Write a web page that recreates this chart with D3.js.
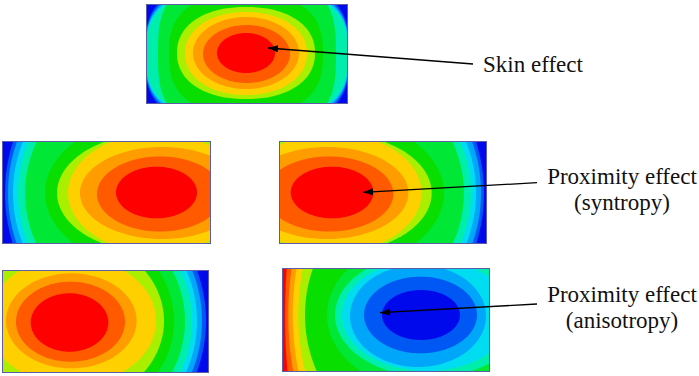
<!DOCTYPE html>
<html>
<head>
<meta charset="utf-8">
<script src="https://cdn.jsdelivr.net/npm/d3@7"></script>
<style>
  html, body { margin: 0; padding: 0; background: #fff; }
  svg { display: block; }
</style>
</head>
<body>
<div id="chart"></div>
<script>
// contour colour levels, low (0) to high (11)
const levelColors = [
  "#0008ec", "#0058f4", "#00a6fa", "#00dcf0", "#00eeac", "#00e836",
  "#08de00", "#aaee00", "#ffd000", "#ff9c00", "#ff5a00", "#ff0000"
];

// each ring: [level, cx, cy, rx, ry, exponent], in panel-local pixels,
// the level's colour fills the inside of the ring
const skinRings = [
  [1, 101, 50, 102, 72, 3],
  [2, 101, 50, 101.6, 68, 3],
  [3, 101, 50, 101.1, 65.4, 3],
  [4, 101, 50, 100.4, 63.3, 3],
  [5, 101, 50, 89, 77, 3],
  [6, 100, 50, 77, 60, 2.6],
  [7, 100, 49, 69, 46, 2.2],
  [8, 100, 49.5, 61, 41.5, 2.1],
  [9, 100, 49, 53, 36, 2],
  [10, 100.5, 50, 43.5, 29, 2],
  [11, 100, 49, 29, 20, 2]
];

const syntropyLeftRings = [
  [1, 154.5, 52, 151.5, 160, 2],
  [2, 154.5, 52, 148.5, 150, 2],
  [3, 154.5, 52, 143.5, 140, 2],
  [4, 154.5, 52, 138.5, 132, 2],
  [5, 154.5, 52, 131.5, 125, 2],
  [6, 154.5, 52, 111.5, 75, 2],
  [7, 154.5, 52, 99.5, 60, 2],
  [8, 154.5, 52, 88.5, 59.5, 2],
  [9, 160, 52, 82, 46, 2],
  [10, 158, 53, 63, 37.5, 2],
  [11, 154.5, 51.5, 40.5, 25.8, 2]
];

const syntropyRightRings = [
  [1, 53.5, 52, 151.5, 160, 2],
  [2, 53.5, 52, 148.5, 150, 2],
  [3, 53.5, 52, 143.5, 140, 2],
  [4, 53.5, 52, 138.5, 132, 2],
  [5, 53.5, 52, 131.5, 125, 2],
  [6, 53.5, 52, 111.5, 75, 2],
  [7, 53.5, 52, 99.2, 60, 2],
  [8, 53.5, 52, 89, 59.5, 2],
  [9, 48, 52, 81.3, 46, 2],
  [10, 50, 53, 64.3, 37.5, 2],
  [11, 53, 51.5, 41.3, 25.8, 2]
];

const anisoLeftRings = [
  [1, 70, 51, 134, 140, 2],
  [2, 70, 51, 130, 132, 2],
  [3, 70, 51, 125, 125, 2],
  [4, 70, 51, 120, 118, 2],
  [5, 70, 51, 113, 110, 2],
  [6, 70, 51, 102, 95, 2],
  [7, 70, 51, 92, 82, 2],
  [8, 70, 51, 84, 64, 2],
  [9, 69.3, 50.8, 65.3, 47.5, 2],
  [10, 68.5, 51.7, 54.5, 40, 2],
  [11, 67.5, 52.5, 38.8, 29.2, 2]
];

const anisoRightRings = [
  [10, 140, 47, 137, 300, 2],
  [9, 140, 47, 133.7, 210, 2],
  [8, 140, 47, 129.3, 190, 2],
  [7, 140, 47, 123.7, 172, 2],
  [6, 140, 47, 117, 129, 2],
  [5, 145, 47, 100, 75, 2],
  [4, 148, 47, 95, 62, 2],
  [3, 145, 47, 85, 56, 2],
  [2, 136, 48, 68, 51, 2],
  [1, 138.5, 47, 56.5, 38.3, 2],
  [0, 139, 47, 39, 25, 2]
];

const labelLines = [
  ["Skin effect"],
  ["Proximity effect", "(syntropy)"],
  ["Proximity effect", "(anisotropy)"]
];

const W = 699, H = 376;

const svg = d3.select("#chart").append("svg")
  .attr("width", W)
  .attr("height", H);

const defs = svg.append("defs");

defs.append("marker")
  .attr("id", "head")
  .attr("markerUnits", "userSpaceOnUse")
  .attr("viewBox", "0 0 10 7")
  .attr("refX", 10)
  .attr("refY", 3.5)
  .attr("markerWidth", 10)
  .attr("markerHeight", 7)
  .attr("orient", "auto")
  .append("path")
  .attr("d", "M0,0L10,3.5L0,7Z")
  .attr("fill", "#000");

const panels = [
  {id: "skin", rings: skinRings, base: 0, x: 146, y: 4, w: 202, h: 100},
  {id: "synL", rings: syntropyLeftRings, base: 0, x: 2, y: 141, w: 209, h: 103},
  {id: "synR", rings: syntropyRightRings, base: 0, x: 279, y: 141, w: 208, h: 103},
  {id: "aniL", rings: anisoLeftRings, base: 0, x: 2, y: 270, w: 207, h: 103},
  {id: "aniR", rings: anisoRightRings, base: 11, x: 282, y: 268, w: 208, h: 104}
];

const line = d3.line().curve(d3.curveLinearClosed);

function ringPath(r, sx, sy) {
  const e = 2 / r[5];
  const pts = d3.range(0, 360, 2).map(function (deg) {
    const t = deg * Math.PI / 180;
    const c = Math.cos(t), s = Math.sin(t);
    return [
      sx(r[1] + r[3] * Math.sign(c) * Math.pow(Math.abs(c), e)),
      sy(r[2] + r[4] * Math.sign(s) * Math.pow(Math.abs(s), e))
    ];
  });
  return line(pts);
}

panels.forEach(function (p) {
  const sx = d3.scaleLinear().domain([0, p.w]).range([p.x, p.x + p.w]);
  const sy = d3.scaleLinear().domain([0, p.h]).range([p.y, p.y + p.h]);

  defs.append("clipPath")
    .attr("id", "clip-" + p.id)
    .append("rect")
    .attr("x", p.x).attr("y", p.y)
    .attr("width", p.w).attr("height", p.h);

  const g = svg.append("g").attr("clip-path", "url(#clip-" + p.id + ")");

  g.append("rect")
    .attr("x", p.x).attr("y", p.y)
    .attr("width", p.w).attr("height", p.h)
    .attr("fill", levelColors[p.base]);

  g.selectAll("path.ring")
    .data(p.rings)
    .join("path")
    .attr("class", "ring")
    .attr("d", function (r) { return ringPath(r, sx, sy); })
    .attr("fill", function (r) { return levelColors[r[0]]; });

  svg.append("rect")
    .attr("x", p.x + 0.5).attr("y", p.y + 0.5)
    .attr("width", p.w - 1).attr("height", p.h - 1)
    .attr("fill", "none")
    .attr("stroke", "#5c5ca8")
    .attr("stroke-width", 1);
});

// leader arrows: from the label to the tip inside the panel
const arrows = [
  [473, 64, 268, 48],
  [537, 182.7, 363, 192.3],
  [537, 304, 380, 312.7]
];

svg.selectAll("line.arrow")
  .data(arrows)
  .join("line")
  .attr("class", "arrow")
  .attr("x1", function (d) { return d[0]; })
  .attr("y1", function (d) { return d[1]; })
  .attr("x2", function (d) { return d[2]; })
  .attr("y2", function (d) { return d[3]; })
  .attr("stroke", "#000")
  .attr("stroke-width", 1.3)
  .attr("marker-end", "url(#head)");

// label anchors
const labelPos = [
  {x: 483, y: 72, anchor: "start"},
  {x: 622, y: 184, anchor: "middle"},
  {x: 622, y: 302, anchor: "middle"}
];

labelLines.forEach(function (lines, i) {
  const pos = labelPos[i];
  const t = svg.append("text")
    .attr("font-family", "'Liberation Serif', 'Times New Roman', Times, serif")
    .attr("font-size", 23)
    .attr("fill", "#111")
    .attr("text-anchor", pos.anchor)
    .attr("x", pos.x)
    .attr("y", pos.y);
  lines.forEach(function (s, j) {
    t.append("tspan")
      .attr("x", pos.x)
      .attr("dy", j === 0 ? 0 : 25.5)
      .text(s);
  });
});
</script>
</body>
</html>
